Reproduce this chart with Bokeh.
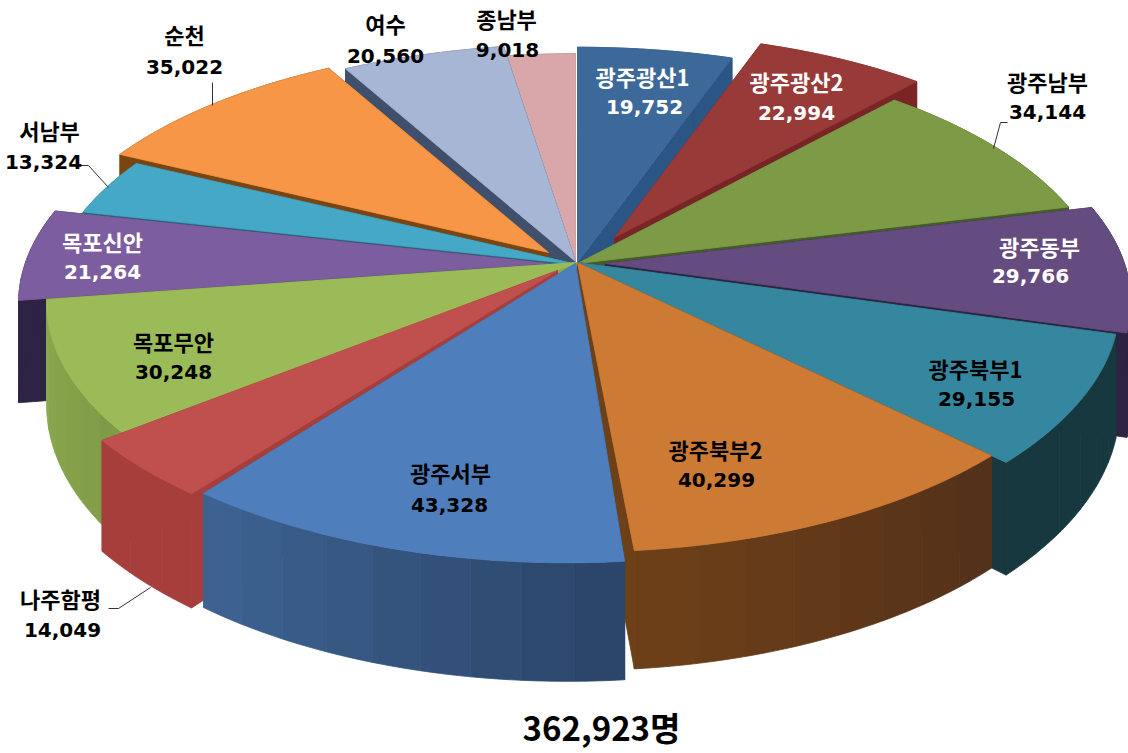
import math
from bokeh.plotting import figure
from bokeh.models import ColumnDataSource, Range1d
from bokeh.core.properties import value
from bokeh.embed import file_html
from bokeh.resources import INLINE

# --- data
names = ["광주광산1","광주광산2","광주남부","광주동부","광주북부1","광주북부2","광주서부",
         "나주함평","목포무안","목포신안","서남부","순천","여수","종남부"]
values = [19752,22994,34144,29766,29155,40299,43328,14049,30248,21264,13324,35022,20560,9018]
unit = "명"

# --- styles
top_colors = ["#3C6999","#973A38","#7D9B47","#654C80","#35879F","#CC7A34","#4E7FBC",
              "#C0504D","#9BBB59","#7C5EA0","#45A8C6","#F79646","#A8B6D6","#D9A6A9"]
wall_a = ["#2A5585","#7A2426","#465C26","#2E2340","#17383F","#6E4018","#3E6494",
          "#A63F3C","#8CAA50","#2E2345","#25697C","#7A4510","#3F4F6C","#7A5A5A"]
wall_b = ["#2A5585","#7A2426","#465C26","#2E2340","#17383F","#52301A","#2A4468",
          "#A63F3C","#7E9A46","#2E2345","#25697C","#7A4510","#3F4F6C","#7A5A5A"]
radius = [0.99,0.93,0.98,0.97,1.0,0.97,0.975,0.98,0.98,0.98,0.98,0.95,1.0,0.95]
shift_x = [0,37,0,28,0,0,-10,-20,0,-28,0,-29,-2,-2]
shift_y = [0,-25,1,1,0,0,9,8,0,1,2,-10,-1,-1]
tip_x = [0,37,0,28,0,0,-2,-20,0,-28,0,-29,-2,-2]
tip_y = [0,-25,1,1,0,0,1,8,0,1,2,-10,-1,-1]
name_pos = [(642,75),(796,80),(1047,80),(1039,245),(975,367),(715,448),(450,471),
            (60,597),(173,340),(102,240),(49,129),(184,33),(385,22),(506,17)]
num_pos = [(644,106),(796,112),(1047,111),(1030,275),(976,398),(716,479),(449,504),
           (62,629),(173,371),(102,271),(43,161),(184,66),(385,55),(507,49)]
text_colors = ["white","white","black","white","black","black","black",
               "black","black","white","black","black","black","black"]
leaders = [([993,1000,1007],[148,122,122]),([212,212],[105,82]),
           ([108,88,80],[187,165,165]),([150,118,108],[587,608,608])]
CX, CY, A, B, K, DEPTH = 577, 262, 535, 252, 0.1605, 100


def project(t, r):
    X, Y = r*math.sin(t), r*math.cos(t)
    w = 1 + K*Y
    return CX + A*X/w, CY - B*Y/w, DEPTH/w


def mix(a, b, f):
    ca = [int(a[i:i+2], 16) for i in (1, 3, 5)]
    cb = [int(b[i:i+2], 16) for i in (1, 3, 5)]
    return "#%02x%02x%02x" % tuple(round(p+(q-p)*f) for p, q in zip(ca, cb))


total = sum(values)
cum = [0]
for v in values:
    cum.append(cum[-1]+v)

mid_back = [math.cos(2*math.pi*(cum[i]+cum[i+1])/2/total) for i in range(len(values))]
order = sorted(range(len(values)), key=lambda i: -mid_back[i])

xs, ys, cols = [], [], []
for i in order:
    t0, t1 = 2*math.pi*cum[i]/total, 2*math.pi*cum[i+1]/total
    n = max(8, int((t1-t0)*60))
    sx, sy = shift_x[i], shift_y[i]
    pts = []
    for j in range(n+1):
        px, py, d = project(t0+(t1-t0)*j/n, radius[i])
        pts.append((px+sx, py+sy, d))
    tip = (CX+tip_x[i], CY+tip_y[i], DEPTH)
    right_first = pts[0][0] > pts[-1][0]
    # radial walls
    for e in (pts[0], pts[-1]):
        xs.append([tip[0], e[0], e[0], tip[0]])
        ys.append([tip[1], e[1], e[1]+e[2], tip[1]+tip[2]])
        cols.append(wall_b[i] if (e is pts[0]) == right_first else wall_a[i])
    # outer wall, in broad bands
    bands = max(3, int((t1-t0)*12))
    for b in range(bands):
        j0, j1 = b*n//bands, (b+1)*n//bands
        seg = pts[j0:j1+1]
        xs.append([q[0] for q in seg]+[q[0] for q in reversed(seg)])
        ys.append([q[1] for q in seg]+[q[1]+q[2] for q in reversed(seg)])
        f = (b+0.5)/bands
        cols.append(mix(wall_a[i], wall_b[i], 1-f if right_first else f))
    # top face
    xs.append([tip[0]]+[q[0] for q in pts])
    ys.append([tip[1]]+[q[1] for q in pts])
    cols.append(top_colors[i])

p = figure(width=1128, height=753, output_backend="svg", toolbar_location=None,
           x_range=Range1d(0, 1128), y_range=Range1d(753, 0), min_border=0,
           outline_line_color=None, background_fill_color="white")
p.axis.visible = False
p.grid.visible = False

p.patches(xs="xs", ys="ys", fill_color="c", line_color="c", line_width=0.8,
          source=ColumnDataSource(dict(xs=xs, ys=ys, c=cols)))

for lx, ly in leaders:
    p.line(lx, ly, line_color="#333333", line_width=1)

p.text(x=[q[0] for q in name_pos], y=[q[1] for q in name_pos], text=names,
       text_color=text_colors, text_align="center", text_baseline="middle",
       text_font=value("Noto Sans CJK KR"), text_font_style="bold", text_font_size="22px")
p.text(x=[q[0] for q in num_pos], y=[q[1] for q in num_pos], text=[f"{v:,}" for v in values],
       text_color=text_colors, text_align="center", text_baseline="middle",
       text_font=value("DejaVu Sans"), text_font_style="bold", text_font_size="20px")
p.text(x=[601], y=[726], text=[f"{total:,}{unit}"], text_color="black",
       text_align="center", text_baseline="middle",
       text_font=value("Noto Sans CJK KR"), text_font_style="bold", text_font_size="33px")

open("out.html", "w").write(file_html(p, INLINE))
